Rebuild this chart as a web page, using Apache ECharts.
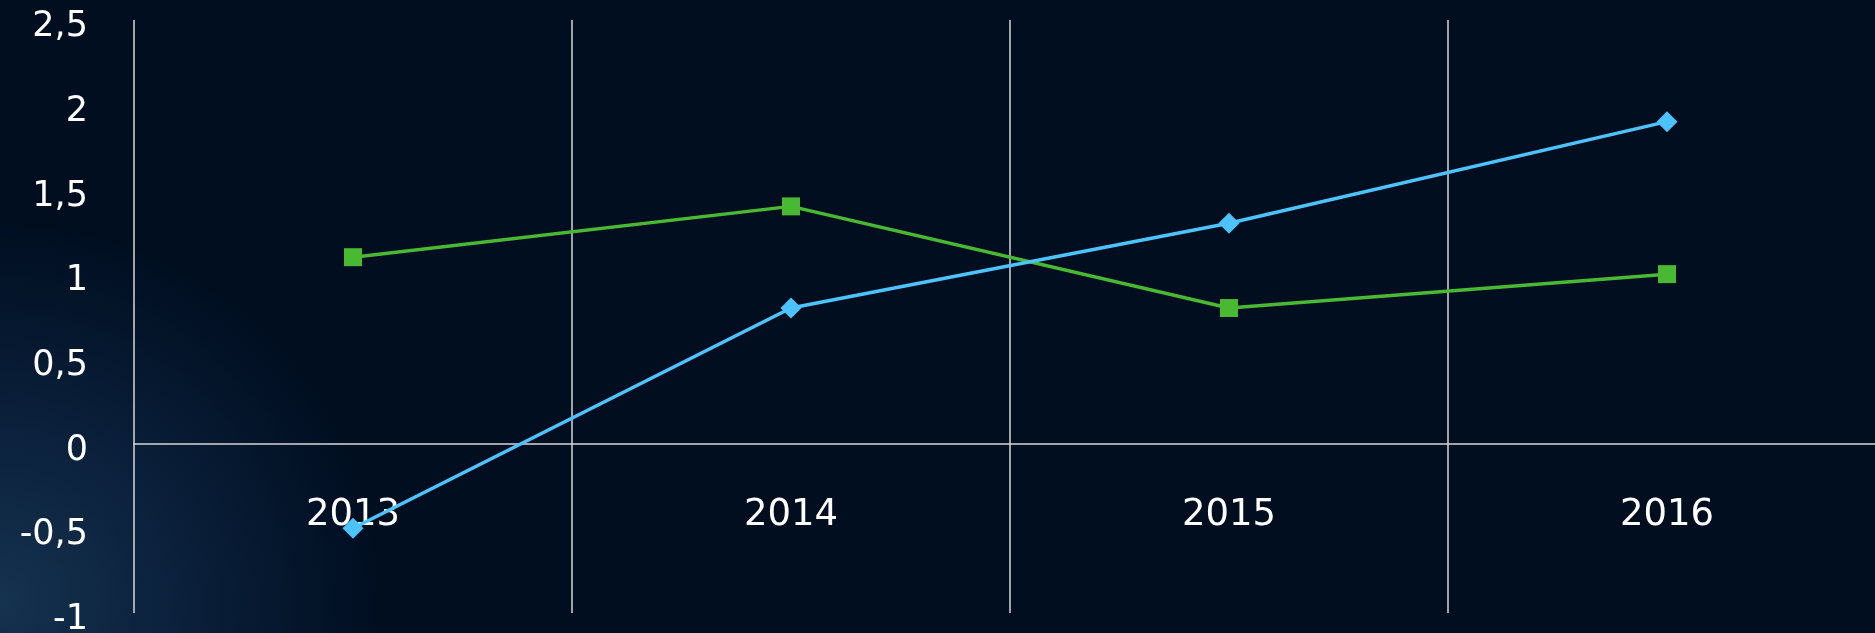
<!DOCTYPE html>
<html>
<head>
<meta charset="utf-8">
<script src="https://cdn.jsdelivr.net/npm/echarts@6/dist/echarts.min.js"></script>
<style>
  html, body { margin: 0; padding: 0; background: #000e20; }
  #chart { width: 1875px; height: 633px; }
</style>
</head>
<body>
<div id="chart"></div>
<script>
// categories and values
var years = ['2013', '2014', '2015', '2016']
var blueValues = [-0.5, 0.8, 1.3, 1.9] // diamonds
var greenValues = [1.1, 1.4, 0.8, 1.0] // squares
var yMin = -1
var yMax = 2.5
var yStep = 0.5

var gridColor = '#d6d6d6'
var labelFont = 'DejaVu Sans'
var gridTop = 20
var gridBottom = 20
var plotHeight = 633 - gridTop - gridBottom
// move the x axis (line + labels) up to the zero line
var zeroOffset = -plotHeight * (0 - yMin) / (yMax - yMin)

var myChart = echarts.init(document.getElementById('chart'))

var option = {
  backgroundColor: {
    type: 'radial',
    x: 0.0,
    y: 0.95,
    r: 0.6,
    colorStops: [
      { offset: 0, color: '#15324f' },
      { offset: 0.5, color: '#0a1f3a' },
      { offset: 1, color: '#000e20' }
    ]
  },
  animation: false,
  grid: {
    left: 134,
    right: -11,
    top: gridTop,
    bottom: gridBottom,
    containLabel: false,
    outerBoundsMode: 'none'
  },
  xAxis: {
    type: 'category',
    data: years,
    boundaryGap: true,
    offset: zeroOffset,
    axisLine: {
      onZero: false,
      lineStyle: { color: gridColor, width: 1.5 }
    },
    axisTick: { show: false },
    axisLabel: {
      color: '#ffffff',
      fontFamily: labelFont,
      fontSize: 37,
      margin: 53
    },
    splitLine: {
      show: true,
      lineStyle: { color: gridColor, width: 1.5 }
    }
  },
  yAxis: {
    type: 'value',
    min: yMin,
    max: yMax,
    interval: yStep,
    axisLine: { show: false },
    axisTick: { show: false },
    splitLine: { show: false },
    axisLabel: {
      color: '#ffffff',
      fontFamily: labelFont,
      fontSize: 35,
      margin: 46,
      verticalAlign: 'top',
      lineHeight: 14,
      formatter: function(v) {
        return String(v).replace('.', ',')
      }
    }
  },
  series: [
    {
      name: 'green',
      type: 'line',
      data: greenValues,
      symbol: 'rect',
      symbolSize: 18,
      lineStyle: { color: '#49b833', width: 3.5 },
      itemStyle: { color: '#49b833' },
      z: 3
    },
    {
      name: 'blue',
      type: 'line',
      data: blueValues,
      symbol: 'diamond',
      symbolSize: 21,
      lineStyle: { color: '#4dc3fd', width: 3.5 },
      itemStyle: { color: '#4dc3fd' },
      z: 4
    }
  ]
}

myChart.setOption(option)
window.addEventListener('resize', function() {
  myChart.resize()
})
</script>
</body>
</html>
